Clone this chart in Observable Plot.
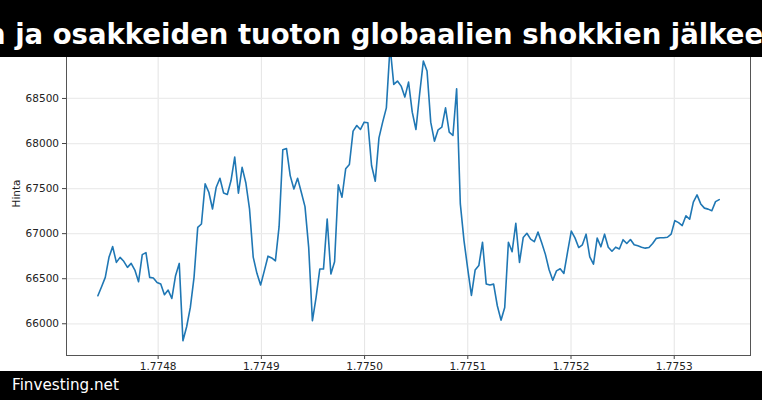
<!DOCTYPE html>
<html>
<head>
<meta charset="utf-8">
<script src="https://cdn.jsdelivr.net/npm/d3@7"></script>
<script src="https://cdn.jsdelivr.net/npm/@observablehq/plot@0.6"></script>
<style>
  html, body { margin: 0; padding: 0; background: #fff; }
  #wrap { position: relative; width: 762px; height: 400px; overflow: hidden; background: #fff; }
  #chart { position: absolute; left: 0; top: 0; }
  #topbar { position: absolute; left: 0; top: 0; width: 762px; height: 57px; background: #000; overflow: hidden; }
  #title { position: absolute; left: -14px; top: 21px; white-space: nowrap; color: #fff;
           font: bold 27.5px/27.5px "DejaVu Sans"; }
  #bottombar { position: absolute; left: 0; top: 371px; width: 762px; height: 29px; background: #000; overflow: hidden; }
  #source { position: absolute; left: 12px; top: 7px; white-space: nowrap; color: #fff;
            font: 15.2px/15.2px "DejaVu Sans"; }
</style>
</head>
<body>
<div id="wrap">
  <div id="chart"></div>
  <div id="topbar"><span id="title">n ja osakkeiden tuoton globaalien shokkien jälkeen</span></div>
  <div id="bottombar"><span id="source">Finvesting.net</span></div>
</div>
<script>
// Values
const prices = [
  66311, 66411, 66515, 66737, 66856, 66681, 66737, 66693, 66626, 66670,
  66596, 66467, 66767, 66789, 66515, 66507, 66459, 66441, 66322, 66374,
  66281, 66533, 66670, 65811, 65967, 66181, 66515, 67070, 67107, 67552,
  67459, 67274, 67515, 67615, 67450, 67435, 67589, 67850, 67450, 67735,
  67565, 67275, 66740, 66560, 66430, 66587, 66750, 66730, 66698, 67080,
  67930, 67944, 67644, 67496, 67615, 67459, 67300, 66848, 66033, 66293,
  66607, 66607, 67163, 66552, 66689, 67541, 67404, 67719, 67767, 68137,
  68200, 68156, 68237, 68230, 67756, 67581, 68063, 68237, 68396, 69080,
  68656, 68693, 68637, 68515, 68681, 68348, 68156, 68552, 68915, 68804,
  68237, 68026, 68152, 68181, 68396, 68126, 68089, 68607, 67330, 66920,
  66610, 66315, 66596, 66646, 66905, 66442, 66430, 66440, 66200, 66040,
  66180, 66905, 66800, 67115, 66680, 66957, 67004, 66940, 66911, 67017,
  66900, 66770, 66600, 66483, 66587, 66611, 66559, 66797, 67028, 66953,
  66846, 66876, 66994, 66742, 66661, 66950, 66854, 66994, 66850, 66805,
  66850, 66830, 66933, 66891, 66935, 66876, 66865, 66850, 66839, 66846,
  66891, 66948, 66954, 66955, 66960, 66995, 67145, 67122, 67090, 67198,
  67160, 67350, 67430, 67330, 67283, 67272, 67254, 67355, 67378
];
const xFirst = 1.7747416;   // x of first sample
const xLast = 1.7753436;    // x of last sample (samples evenly spaced)
const xTicks = [1.7748, 1.7749, 1.7750, 1.7751, 1.7752, 1.7753];
const yTicks = [66000, 66500, 67000, 67500, 68000, 68500];
const yLabel = "Hinta";

const n = prices.length;
const data = prices.map((v, i) => ({x: xFirst + (xLast - xFirst) * i / (n - 1), y: v}));

const fmtX = d => d.toFixed(4);
const fmtY = d => String(d);

const chart = Plot.plot({
  width: 762,
  height: 400,
  marginTop: 31,
  marginBottom: 45,
  marginLeft: 66,
  marginRight: 12,
  style: {fontFamily: "DejaVu Sans", fontSize: "10.5px", color: "#222", background: "white"},
  x: {domain: [1.7747112, 1.7753739], label: null},
  y: {domain: [65648, 69243], label: null},
  marks: [
    Plot.gridX(xTicks, {stroke: "#e4e4e4", strokeOpacity: 1, strokeWidth: 1}),
    Plot.gridY(yTicks, {stroke: "#ececec", strokeOpacity: 1, strokeWidth: 1.2}),
    Plot.line(data, {x: "x", y: "y", stroke: "#1f77b4", strokeWidth: 1.6, clip: true}),
    Plot.axisX(xTicks, {tickFormat: fmtX, tickSize: 4, tickPadding: 3.5, stroke: "#444", label: null}),
    Plot.axisY(yTicks, {tickFormat: fmtY, tickSize: 4, tickPadding: 3.5, stroke: "#444", label: yLabel,
                        labelAnchor: "center", labelArrow: "none", labelOffset: 54}),
    Plot.frame({stroke: "#555", strokeWidth: 1})
  ]
});
document.getElementById("chart").appendChild(chart);
</script>
</body>
</html>
